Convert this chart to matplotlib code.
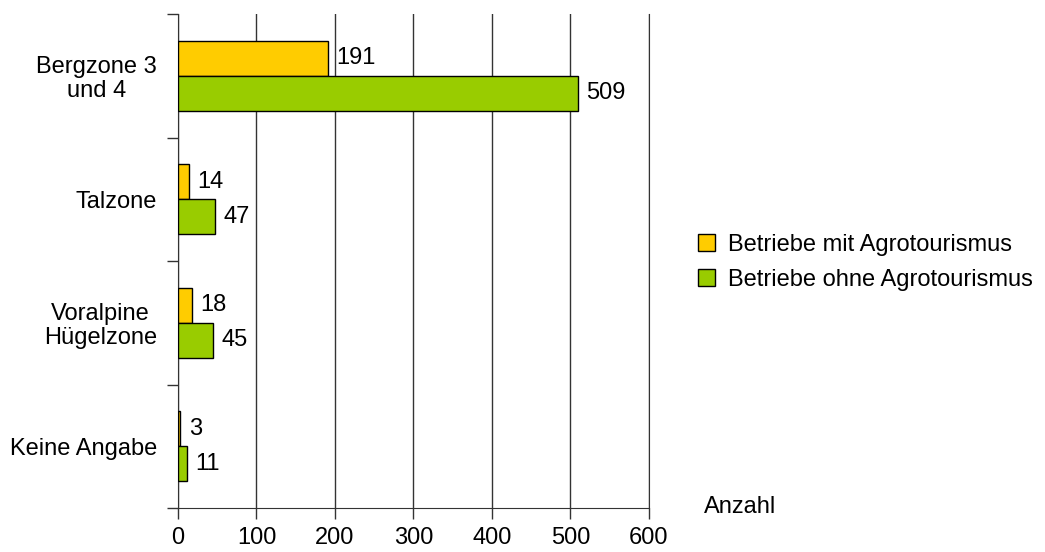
import matplotlib
matplotlib.use("Agg")
import matplotlib.pyplot as plt
import numpy as np

categories = ["Bergzone 3\nund 4", "Talzone", "Voralpine\nHügelzone", "Keine Angabe"]
mit = [191, 14, 18, 3]
ohne = [509, 47, 45, 11]
series_names = ["Betriebe mit Agrotourismus", "Betriebe ohne Agrotourismus"]
xticks = [0, 100, 200, 300, 400, 500, 600]

plt.rcParams['font.family'] = ['Liberation Sans', 'DejaVu Sans']
FS = 17

fig = plt.figure(figsize=(10.45, 5.52), dpi=100)
ax = fig.add_axes([0.1703, 0.0797, 0.4507, 0.8949])

n = len(categories)
pos = np.arange(n)
h = 0.283
ax.barh(pos - h/2, mit, height=h, color="#FFCC00", edgecolor="black", linewidth=1, label=series_names[0], zorder=3)
ax.barh(pos + h/2, ohne, height=h, color="#99CC00", edgecolor="black", linewidth=1, label=series_names[1], zorder=3)

for i in range(n):
    ax.annotate(str(mit[i]), (mit[i], pos[i] - h/2), xytext=(6, 0), textcoords="offset points",
                va="center", ha="left", fontsize=FS)
    ax.annotate(str(ohne[i]), (ohne[i], pos[i] + h/2), xytext=(6, 0), textcoords="offset points",
                va="center", ha="left", fontsize=FS)

ax.set_ylim(n - 0.5, -0.5)
ax.set_xlim(0, 600)
ax.set_xticks(xticks)
ax.set_xticklabels([str(t) for t in xticks], fontsize=FS)
ax.set_yticks(pos)
ax.set_yticklabels(categories, fontsize=FS, multialignment="center", linespacing=1.1)
ax.tick_params(axis="y", which="major", length=0, pad=15)
ax.set_yticks(np.arange(n + 1) - 0.5, minor=True)
ax.tick_params(axis="y", which="minor", length=8, width=1, direction="out", color="#333333")
ax.tick_params(axis="x", which="major", length=8, width=1, direction="out", color="#333333", pad=6)
ax.grid(axis="x", color="#333333", linewidth=1, zorder=0)
ax.spines["top"].set_visible(False)
for s in ["left", "bottom", "right"]:
    ax.spines[s].set_color("#333333")

fig.text(0.674, 0.081, "Anzahl", fontsize=FS, va="center", ha="left")

fig.legend(loc="center left", bbox_to_anchor=(0.648, 0.5245), frameon=False, fontsize=FS,
           handlelength=0.7, handleheight=0.7, handletextpad=0.55, labelspacing=0.55)

fig.savefig("out.png", dpi=100)
